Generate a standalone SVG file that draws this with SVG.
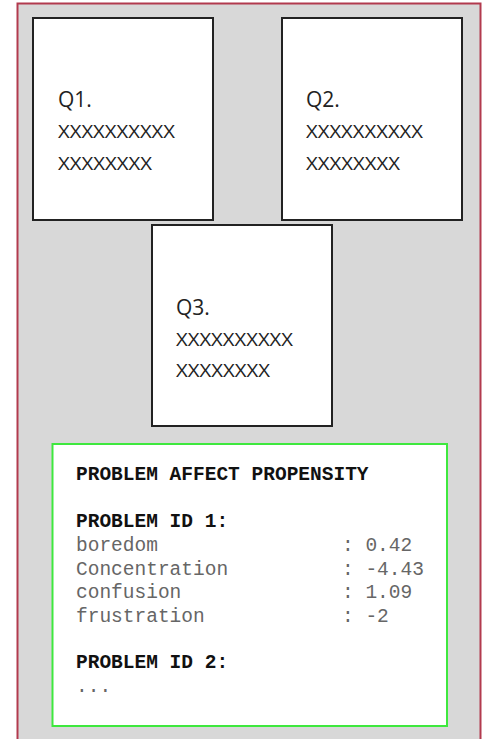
<svg xmlns="http://www.w3.org/2000/svg" width="483" height="739" viewBox="0 0 483 739">
<style>
.q{fill:#fff;stroke:#222;stroke-width:2}
.qt{font-family:"Open Sans","Noto Sans",sans-serif;fill:#222}
.h{font-size:21px}
.x{font-size:18px}
.m{font-family:"Liberation Mono","Courier New",monospace;font-size:19.5px}
.b{font-weight:bold;fill:#111}
.g{fill:#666}
</style>
<rect width="483" height="739" fill="#fff"/>
<g id="frame">
<rect x="17.5" y="3.5" width="463" height="745" fill="#d8d8d8" stroke="#b23a4e" stroke-width="2"/>
</g>
<g id="connectors"/>
<g id="q1">
<rect class="q" x="33" y="18" width="180" height="202"/>
<text class="qt h" x="58" y="107">Q1.</text>
<text class="qt x" x="58" y="138" textLength="117" lengthAdjust="spacingAndGlyphs">XXXXXXXXXX</text>
<text class="qt x" x="58" y="170" textLength="94" lengthAdjust="spacingAndGlyphs">XXXXXXXX</text>
</g>
<g id="q2">
<rect class="q" x="282" y="18" width="180" height="202"/>
<text class="qt h" x="306" y="107">Q2.</text>
<text class="qt x" x="306" y="138" textLength="117" lengthAdjust="spacingAndGlyphs">XXXXXXXXXX</text>
<text class="qt x" x="306" y="170" textLength="94" lengthAdjust="spacingAndGlyphs">XXXXXXXX</text>
</g>
<g id="q3">
<rect class="q" x="152" y="225" width="180" height="201"/>
<text class="qt h" x="176" y="315">Q3.</text>
<text class="qt x" x="176" y="346" textLength="117" lengthAdjust="spacingAndGlyphs">XXXXXXXXXX</text>
<text class="qt x" x="176" y="377" textLength="94" lengthAdjust="spacingAndGlyphs">XXXXXXXX</text>
</g>
<g id="propensity">
<rect x="52.5" y="444" width="394.5" height="282" fill="#fff" stroke="#3ee83e" stroke-width="2"/>
<text class="m b" x="76" y="480">PROBLEM AFFECT PROPENSITY</text>
<text class="m b" x="76" y="527">PROBLEM ID 1:</text>
<text class="m g" x="76" y="551">boredom</text>
<text class="m g" x="342" y="551">: 0.42</text>
<text class="m g" x="76" y="575">Concentration</text>
<text class="m g" x="342" y="575">: -4.43</text>
<text class="m g" x="76" y="598">confusion</text>
<text class="m g" x="342" y="598">: 1.09</text>
<text class="m g" x="76" y="622">frustration</text>
<text class="m g" x="342" y="622">: -2</text>
<text class="m b" x="76" y="668">PROBLEM ID 2:</text>
<text class="m g" x="76" y="692">...</text>
</g>
</svg>
